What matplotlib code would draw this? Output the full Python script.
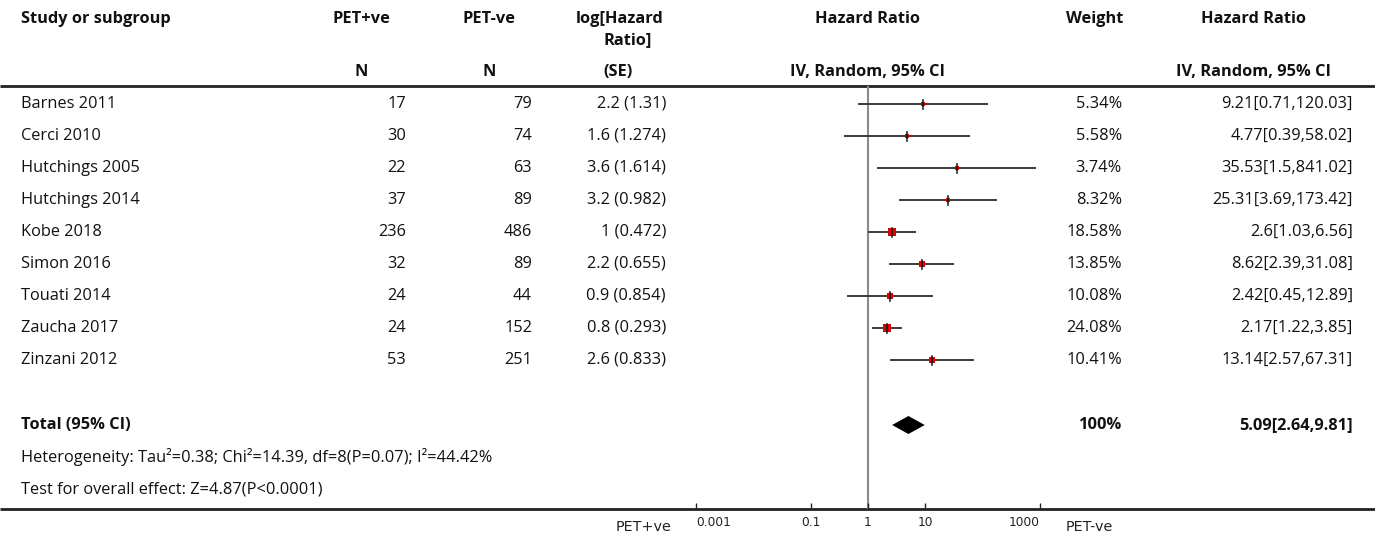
import numpy as np
import matplotlib
matplotlib.use("Agg")
import matplotlib.pyplot as plt


studies = ["Barnes 2011", "Cerci 2010", "Hutchings 2005", "Hutchings 2014", "Kobe 2018",
           "Simon 2016", "Touati 2014", "Zaucha 2017", "Zinzani 2012"]
n_pos = [17, 30, 22, 37, 236, 32, 24, 24, 53]
n_neg = [79, 74, 63, 89, 486, 89, 44, 152, 251]
log_hr = [2.2, 1.6, 3.6, 3.2, 1, 2.2, 0.9, 0.8, 2.6]
log_se = [1.31, 1.274, 1.614, 0.982, 0.472, 0.655, 0.854, 0.293, 0.833]
weights = [5.34, 5.58, 3.74, 8.32, 18.58, 13.85, 10.08, 24.08, 10.41]
hr = [9.21, 4.77, 35.53, 25.31, 2.6, 8.62, 2.42, 2.17, 13.14]
hr_lo = [0.71, 0.39, 1.5, 3.69, 1.03, 2.39, 0.45, 1.22, 2.57]
hr_hi = [120.03, 58.02, 841.02, 173.42, 6.56, 31.08, 12.89, 3.85, 67.31]

total_hr, total_lo, total_hi = 5.09, 2.64, 9.81
total_weight = "100%"
heterogeneity = "Heterogeneity: Tau\u00b2=0.38; Chi\u00b2=14.39, df=8(P=0.07); I\u00b2=44.42%"
overall = "Test for overall effect: Z=4.87(P<0.0001)"

ticks = [0.001, 0.1, 1, 10, 1000]
tick_labels = ["0.001", "0.1", "1", "10", "1000"]

W, H = 1375, 539
FONT = ["Open Sans", "DejaVu Sans"]
FS = 11.8

fig = plt.figure(figsize=(W / 100, H / 100), dpi=100)

# pixel-space overlay for the table text
ax = fig.add_axes([0, 0, 1, 1])
ax.set_xlim(0, W)
ax.set_ylim(H, 0)
ax.axis("off")


def txt(x, y, s, ha="left", bold=False, **kw):
    ax.text(x, y, s, ha=ha, va="center", fontsize=FS, family=FONT,
            fontweight="bold" if bold else "normal", color="#111111", **kw)


# header
txt(21, 19, "Study or subgroup", bold=True)
txt(361, 19, "PET+ve", ha="center", bold=True)
txt(361, 72, "N", ha="center", bold=True)
txt(489, 19, "PET-ve", ha="center", bold=True)
txt(489, 72, "N", ha="center", bold=True)
txt(620, 19, "log[Hazard", ha="center", bold=True)
txt(628, 40, "Ratio]", ha="center", bold=True)
txt(618, 72, "(SE)", ha="center", bold=True)
txt(868, 19, "Hazard Ratio", ha="center", bold=True)
txt(868, 72, "IV, Random, 95% CI", ha="center", bold=True)
txt(1095, 19, "Weight", ha="center", bold=True)
txt(1254, 19, "Hazard Ratio", ha="center", bold=True)
txt(1254, 72, "IV, Random, 95% CI", ha="center", bold=True)

ax.plot([0, W], [86, 86], color="#222222", lw=2, solid_capstyle="butt")
ax.plot([0, W], [509, 509], color="#222222", lw=2, solid_capstyle="butt")

row_y0, row_dy = 104, 32.0
rows_y = [row_y0 + i * row_dy for i in range(len(studies))]

for i, y in enumerate(rows_y):
    txt(21, y, studies[i])
    txt(406, y, str(n_pos[i]), ha="right")
    txt(532, y, str(n_neg[i]), ha="right")
    txt(666, y, f"{log_hr[i]:g} ({log_se[i]:g})", ha="right")
    txt(1122, y, f"{weights[i]:.2f}%", ha="right")
    txt(1353, y, f"{hr[i]:g}[{hr_lo[i]:g},{hr_hi[i]:g}]", ha="right")

txt(21, 425, "Total (95% CI)", bold=True)
txt(1122, 425, total_weight, ha="right", bold=True)
txt(1353, 425, f"{total_hr:g}[{total_lo:g},{total_hi:g}]", ha="right", bold=True)
txt(21, 457, heterogeneity)
txt(21, 489, overall)

ax.text(644, 527, "PET+ve", ha="center", va="center", fontsize=10.4,
        family="DejaVu Sans", color="#222222")
ax.text(1066, 527, "PET-ve", ha="left", va="center", fontsize=10.4,
        family="DejaVu Sans", color="#222222")

# forest panel: log scale spanning the tick range, y in pixel units
x0, x1 = 868 - 3 * 57.2, 868 + 3 * 57.2
fax = fig.add_axes([x0 / W, (H - 509) / H, (x1 - x0) / W, (509 - 86) / H])
fax.set_xscale("log")
fax.set_xlim(1e-3, 1e3)
fax.set_ylim(509, 86)
fax.patch.set_alpha(0)
for s in ["top", "left", "right", "bottom"]:
    fax.spines[s].set_visible(False)
fax.set_yticks([])
fax.set_xticks(ticks)
fax.set_xticklabels(tick_labels, fontsize=8.8, family="DejaVu Sans", color="#222222")
fax.xaxis.set_minor_locator(matplotlib.ticker.NullLocator())
fax.tick_params(axis="x", direction="in", length=4, width=1, pad=5, color="#222222")
labels = fax.get_xticklabels()
labels[0].set_ha("left")
labels[-1].set_ha("right")

fax.axvline(1, color="#8a8a8a", lw=1.5, zorder=1)

for i, y in enumerate(rows_y):
    fax.plot([hr_lo[i], hr_hi[i]], [y, y], color="#3a3a3a", lw=1.4, zorder=2,
             clip_on=False)
    size_px = 8.0 * np.sqrt(weights[i] / max(weights))
    fax.plot(hr[i], y, marker="s", ms=size_px * 0.72, color="#e00000", mec="#e00000",
             mew=0, zorder=3)
    fax.plot([hr[i], hr[i]], [y - 4.5, y + 4.5], color="#111111", lw=1.1, zorder=4)

fax.fill([total_lo, total_hr, total_hi, total_hr], [425, 416, 425, 434],
         color="black", zorder=3, lw=0)

fig.savefig("out.png", dpi=100)
